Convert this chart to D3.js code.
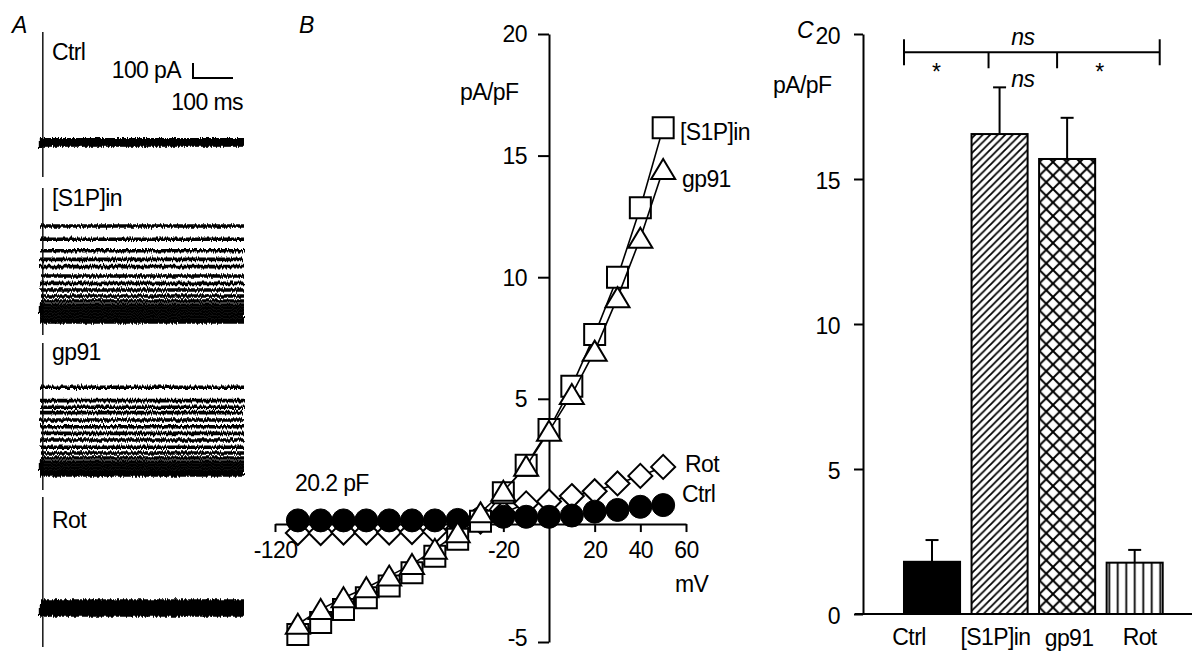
<!DOCTYPE html>
<html>
<head>
<meta charset="utf-8">
<script src="https://cdn.jsdelivr.net/npm/d3@7"></script>
<style>
  body { margin: 0; background: #fff; }
  text { font-family: "Liberation Sans", Arial, sans-serif; font-size: 23px; fill: #000; letter-spacing: -0.6px; }
  .it { font-style: italic; }
</style>
</head>
<body>
<svg id="fig" width="1192" height="652"></svg>
<script>
// ---- panel A: current traces (pA), one level per voltage step
var traceNames = ["Ctrl", "[S1P]in", "gp91", "Rot"];
var ctrlTraces = [22, 18, 15, 12, 10, 8, 6, 4, 3, 1, 0, -2, -4, -6, -8, -10, -13];
var s1pTraces = [547, 458, 382, 324, 276, 213, 164, 120, 80, 47, 20, 0, -20, -40, -60, -80, -93];
var gp91Traces = [518, 429, 385, 349, 300, 255, 211, 167, 118, 80, 47, 20, 0, -20, -40, -53, -67];
var rotTraces = [60, 52, 44, 37, 30, 24, 18, 12, 6, 2, 0, -5, -10, -16, -22, -28, -33];
var transientUp = [740, 800, 813, 753];
var transientDown = [-227, -180, -167, -247];
var sweepMs = 510;
var scaleBarPA = 100;
var scaleBarMs = 100;

// ---- panel B: I-V relation (pA/pF)
var mV = [-110, -100, -90, -80, -70, -60, -50, -40, -30, -20, -10, 0, 10, 20, 30, 40, 50];
var rotIV = [-0.52, -0.52, -0.5, -0.5, -0.5, -0.48, -0.45, -0.35, -0.05, 0.3, 0.7, 0.78, 1.0, 1.2, 1.52, 1.83, 2.2];
var ctrlIV = [0.0, 0.0, 0.0, 0.0, 0.0, 0.0, 0.0, 0.02, 0.08, 0.15, 0.15, 0.15, 0.2, 0.36, 0.43, 0.56, 0.63];
var s1pIV = [-4.69, -4.2, -3.66, -3.18, -2.7, -2.15, -1.47, -0.78, -0.03, 1.14, 2.27, 3.74, 5.52, 7.64, 10.0, 12.86, 16.15];
var gp91IV = [-4.27, -3.66, -3.18, -2.77, -2.29, -1.81, -1.19, -0.51, 0.31, 1.2, 2.23, 3.67, 5.18, 6.96, 9.16, 11.6, 14.43];
var ivXTicks = [-120, -20, 20, 40, 60];
var ivYTicks = [-5, 5, 10, 15, 20];

// ---- panel C: mean current density at +50 mV
var barCats = ["Ctrl", "[S1P]in", "gp91", "Rot"];
var barMeans = [1.8, 16.55, 15.69, 1.77];
var barSems = [0.75, 1.61, 1.42, 0.44];
var barYTicks = [0, 5, 10, 15, 20];

var svg = d3.select("#fig");
var defs = svg.append("defs");

// noise look for the raw traces
var flt = defs.append("filter").attr("id", "noise").attr("filterUnits", "userSpaceOnUse")
  .attr("x", -20).attr("y", -700).attr("width", 1250).attr("height", 1400);
flt.append("feTurbulence").attr("type", "fractalNoise").attr("baseFrequency", "0.8 0.06")
  .attr("numOctaves", 2).attr("seed", 7).attr("result", "n");
flt.append("feDisplacementMap").attr("in", "SourceGraphic").attr("in2", "n").attr("scale", 5)
  .attr("xChannelSelector", "R").attr("yChannelSelector", "G");

// bar fill patterns
var pHatch = defs.append("pattern").attr("id", "hatch").attr("patternUnits", "userSpaceOnUse")
  .attr("width", 7.5).attr("height", 7.5);
pHatch.append("rect").attr("width", 7.5).attr("height", 7.5).attr("fill", "#fff");
pHatch.append("path").attr("d", "M-1,1L1,-1M0,7.5L7.5,0M6.5,8.5L8.5,6.5")
  .attr("stroke", "#000").attr("stroke-width", 1.8);
var pCross = defs.append("pattern").attr("id", "cross").attr("patternUnits", "userSpaceOnUse")
  .attr("width", 13.5).attr("height", 13.5);
pCross.append("rect").attr("width", 13.5).attr("height", 13.5).attr("fill", "#fff");
pCross.append("path").attr("d", "M0,0L13.5,13.5M0,13.5L13.5,0")
  .attr("stroke", "#000").attr("stroke-width", 2);
var pVert = defs.append("pattern").attr("id", "vert").attr("patternUnits", "userSpaceOnUse")
  .attr("width", 8.5).attr("height", 8.5);
pVert.append("rect").attr("width", 8.5).attr("height", 8.5).attr("fill", "#fff");
pVert.append("line").attr("x1", 4.25).attr("x2", 4.25).attr("y1", 0).attr("y2", 8.5)
  .attr("stroke", "#000").attr("stroke-width", 1.8);

function label(x, y, str, anchor, cls) {
  return svg.append("text").attr("x", x).attr("y", y)
    .attr("text-anchor", anchor || "start").attr("class", cls || null).text(str);
}

// =========== Panel A ===========
label(12, 33, "A", "start", "it");
var tx = d3.scaleLinear().domain([0, sweepMs]).range([40, 244]);
var ty = d3.scaleLinear().domain([0, 100]).range([0, -15]);
var traceSets = [ctrlTraces, s1pTraces, gp91Traces, rotTraces];
var traceBase = [143, 308, 465, 610];
var traceLabelY = [60, 206, 360, 528];

traceSets.forEach(function (levels, i) {
  var g = svg.append("g").attr("transform", "translate(0," + traceBase[i] + ")");
  g.append("line")
    .attr("x1", tx(7)).attr("x2", tx(7))
    .attr("y1", ty(transientUp[i])).attr("y2", ty(transientDown[i]))
    .attr("stroke", "#222").attr("stroke-width", 1.6);
  var tg = g.append("g").attr("filter", "url(#noise)");
  tg.append("rect").attr("x", tx(-3)).attr("y", -5).attr("width", 5).attr("height", 10).attr("fill", "#000");
  tg.selectAll("line.sweep")
    .data(levels)
    .enter()
    .append("line")
    .attr("class", "sweep")
    .attr("x1", tx(0)).attr("x2", tx(sweepMs))
    .attr("y1", function (d) { return ty(d); })
    .attr("y2", function (d) { return ty(d); })
    .attr("stroke", "#000").attr("stroke-width", 3.6);
  label(52, traceLabelY[i], traceNames[i]);
});

// scale bar
var sbx = 193, sby = 78;
svg.append("path")
  .attr("d", "M" + sbx + "," + (sby + ty(scaleBarPA)) + "V" + sby + "H" + (sbx + tx(scaleBarMs) - tx(0)))
  .attr("fill", "none").attr("stroke", "#000").attr("stroke-width", 2);
label(181, 78, scaleBarPA + " pA", "end");
label(243, 110, scaleBarMs + " ms", "end");

// =========== Panel B ===========
label(299, 33, "B", "start", "it");
var ivX = d3.scaleLinear().domain([-120, 60]).range([275, 686]);
var ivY = d3.scaleLinear().domain([-5, 20]).range([642, 34]);
var xAxisAt = -0.15;
var plain = function (d) { return String(d); };

var gx = svg.append("g")
  .attr("transform", "translate(0," + ivY(xAxisAt) + ")")
  .call(d3.axisBottom(ivX).tickValues(ivXTicks).tickSize(8).tickSizeOuter(0).tickPadding(10)
    .tickFormat(plain));
var gy = svg.append("g")
  .attr("transform", "translate(" + ivX(0) + ",0)")
  .call(d3.axisLeft(ivY).tickValues(ivYTicks).tickSize(11).tickSizeOuter(0).tickPadding(11)
    .tickFormat(plain));
[gx, gy].forEach(function (a) {
  a.selectAll("path,line").attr("stroke", "#000").attr("stroke-width", 2);
});
// bottom label sits against the page edge, so lift it a little
gy.selectAll("text").attr("dy", function (d) { return d === -5 ? "0.14em" : "0.34em"; });
gx.selectAll("text").attr("dy", "0.7em");

label(460, 100, "pA/pF");
label(675, 592, "mV");
label(295, 491, "20.2 pF");

var ivSeries = [
  { name: "Rot", values: rotIV, shape: "diamond", fill: "#fff" },
  { name: "Ctrl", values: ctrlIV, shape: "circle", fill: "#000" },
  { name: "[S1P]in", values: s1pIV, shape: "square", fill: "#fff" },
  { name: "gp91", values: gp91IV, shape: "triangle", fill: "#fff" }
];
var shapes = {
  diamond: "M0,-12L12,0L0,12L-12,0Z",
  square: "M-10.5,-10.5H10.5V10.5H-10.5Z",
  triangle: "M0,-10.5L12,9.5L-12,9.5Z"
};
var ivLine = d3.line()
  .x(function (d, i) { return ivX(mV[i]); })
  .y(function (d) { return ivY(d); });

ivSeries.forEach(function (s) {
  var g = svg.append("g");
  g.append("path").attr("d", ivLine(s.values))
    .attr("fill", "none").attr("stroke", "#000").attr("stroke-width", 1.6);
  var pts = g.selectAll(".pt").data(s.values).enter();
  if (s.shape === "circle") {
    pts.append("circle")
      .attr("cx", function (d, i) { return ivX(mV[i]); })
      .attr("cy", function (d) { return ivY(d); })
      .attr("r", 11.5).attr("fill", s.fill).attr("stroke", "#000").attr("stroke-width", 1);
  } else {
    pts.append("path")
      .attr("d", shapes[s.shape])
      .attr("transform", function (d, i) { return "translate(" + ivX(mV[i]) + "," + ivY(d) + ")"; })
      .attr("fill", s.fill).attr("stroke", "#000").attr("stroke-width", 2);
  }
});

label(680, 140, "[S1P]in");
label(682, 187, "gp91");
label(685, 472, "Rot");
label(682, 502, "Ctrl");

// =========== Panel C ===========
label(797, 38, "C", "start", "it");
var bx = d3.scaleBand().domain(barCats).range([898.25, 1168.45]).paddingInner(0.17).paddingOuter(0.085);
var by = d3.scaleLinear().domain([0, 20]).range([614, 34]);
var bw = bx.bandwidth();
var barFills = ["#000", "url(#hatch)", "url(#cross)", "url(#vert)"];

var gcy = svg.append("g")
  .attr("transform", "translate(863,0)")
  .call(d3.axisLeft(by).tickValues(barYTicks).tickSize(9).tickSizeOuter(0).tickPadding(14)
    .tickFormat(plain));
gcy.selectAll("path,line").attr("stroke", "#000").attr("stroke-width", 2);
gcy.selectAll("text").attr("dy", "0.42em");
svg.append("line").attr("x1", 855).attr("x2", 1192).attr("y1", by(0)).attr("y2", by(0))
  .attr("stroke", "#000").attr("stroke-width", 2);
label(773, 93, "pA/pF");

svg.append("g").selectAll("rect")
  .data(barCats)
  .enter()
  .append("rect")
  .attr("x", function (d) { return bx(d); })
  .attr("y", function (d, i) { return by(barMeans[i]); })
  .attr("width", bw)
  .attr("height", function (d, i) { return by(0) - by(barMeans[i]); })
  .attr("fill", function (d, i) { return barFills[i]; })
  .attr("stroke", "#000").attr("stroke-width", 2);

var eb = svg.append("g").attr("stroke", "#000").attr("stroke-width", 2);
barCats.forEach(function (c, i) {
  var cx = bx(c) + bw / 2;
  eb.append("line").attr("x1", cx).attr("x2", cx)
    .attr("y1", by(barMeans[i])).attr("y2", by(barMeans[i] + barSems[i]));
  eb.append("line").attr("x1", cx - 6.5).attr("x2", cx + 6.5)
    .attr("y1", by(barMeans[i] + barSems[i])).attr("y2", by(barMeans[i] + barSems[i]));
});

// category labels (slightly staggered as in the original)
var catDx = [-23, -4, 2, 5];
var catDy = [0, 0, 1, 0];
barCats.forEach(function (c, i) {
  label(bx(c) + bw / 2 + catDx[i], 645 + catDy[i], c, "middle");
});

// significance bracket
var bracketV = 19.37;
var bl = bx("Ctrl"), br = bx("Rot") + bw - 3;
var m1 = bx("[S1P]in") + 17, m2 = bx("gp91") + 18;
var sg = svg.append("g").attr("stroke", "#000").attr("stroke-width", 2).attr("fill", "none");
sg.append("line").attr("x1", bl).attr("x2", br).attr("y1", by(bracketV)).attr("y2", by(bracketV));
[bl, br].forEach(function (x) {
  sg.append("line").attr("x1", x).attr("x2", x).attr("y1", by(bracketV) - 13).attr("y2", by(bracketV) + 13);
});
[m1, m2].forEach(function (x) {
  sg.append("line").attr("x1", x).attr("x2", x).attr("y1", by(bracketV)).attr("y2", by(bracketV) + 16);
});
label((m1 + m2) / 2, 45, "ns", "middle", "it");
label((m1 + m2) / 2, 87, "ns", "middle", "it");
label((bl + m1) / 2 - 10, 80, "*", "middle");
label((m2 + br) / 2 - 9, 80, "*", "middle");
</script>
</body>
</html>
